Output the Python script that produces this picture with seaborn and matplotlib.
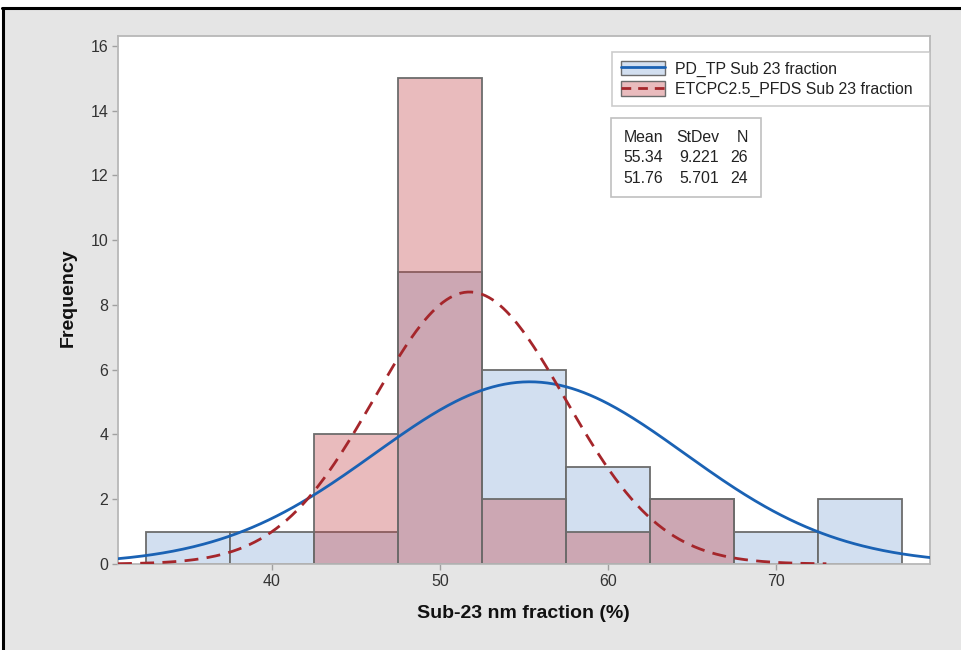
import numpy as np
import pandas as pd
import matplotlib
matplotlib.use("Agg")
import matplotlib.pyplot as plt
import seaborn as sns
from matplotlib.patches import Rectangle, Patch
from matplotlib.lines import Line2D
from matplotlib.legend_handler import HandlerTuple

# ---------------- data ----------------
bin_centers = [35, 40, 45, 50, 55, 60, 65, 70, 75]
bin_edges = [32.5, 37.5, 42.5, 47.5, 52.5, 57.5, 62.5, 67.5, 72.5, 77.5]
pd_tp_counts = [1, 1, 1, 9, 6, 3, 2, 1, 2]
etc_counts = [0, 0, 4, 15, 2, 1, 2, 0, 0]
series_names = ["PD_TP Sub 23 fraction", "ETCPC2.5_PFDS Sub 23 fraction"]
means = [55.34, 51.76]
stdevs = [9.221, 5.701]
ns = [26, 24]
x_ticks = [40, 50, 60, 70]
y_ticks = [0, 2, 4, 6, 8, 10, 12, 14, 16]
x_label = "Sub-23 nm fraction (%)"
y_label = "Frequency"

# ---------------- style ----------------
sns.set_style("white")
plt.rcParams["font.family"] = ["Liberation Sans", "DejaVu Sans"]

W, H = 962, 650
fig = plt.figure(figsize=(W / 100, H / 100), dpi=100, facecolor="white")

def fx(px):
    return px / W

def fy(py):
    return 1 - py / H

# gray panel with black top/left border
fig.add_artist(Rectangle((fx(3), 0), 1 - fx(3), fy(9), transform=fig.transFigure,
                         facecolor="#e5e5e5", edgecolor="none", zorder=-10))
fig.add_artist(Line2D([fx(3), fx(3)], [0, fy(8)], transform=fig.transFigure,
                      color="black", lw=2.2))
fig.add_artist(Line2D([fx(2), 1], [fy(8), fy(8)], transform=fig.transFigure,
                      color="black", lw=2.2))

ax_l, ax_r, ax_t, ax_b = 118, 930, 36, 564
ax = fig.add_axes([fx(ax_l), fy(ax_b), fx(ax_r - ax_l), (ax_b - ax_t) / H])
ax.set_facecolor("white")

blue_fill = "#d2dff0"
red_base = "#c24548"
edge_col = "#6c6c6c"
blue_line = "#1a62b4"
red_line = "#a5262b"

df_blue = pd.DataFrame({"x": bin_centers, "w": pd_tp_counts})
df_red = pd.DataFrame({"x": bin_centers, "w": etc_counts})

sns.histplot(data=df_blue, x="x", weights="w", bins=bin_edges, color=blue_fill,
             alpha=1.0, edgecolor=edge_col, linewidth=1.3, ax=ax, zorder=1)
n_before = len(ax.patches)
sns.histplot(data=df_red, x="x", weights="w", bins=bin_edges, color=red_base,
             alpha=0.36, edgecolor=edge_col, linewidth=1.3, ax=ax, zorder=2)
red_fc = matplotlib.colors.to_rgba(red_base, 0.36)
for p in ax.patches[n_before:]:
    p.set_alpha(None)
    p.set_facecolor(red_fc)
    if p.get_height() > 0:
        p.set_edgecolor(edge_col)
    else:
        p.set_edgecolor("none")

xmin, xmax = 30.83, 79.17
binw = 5.0

def normal_curve(m, s, n, lo, hi):
    xs = np.linspace(lo, hi, 400)
    ys = n * binw / (s * np.sqrt(2 * np.pi)) * np.exp(-0.5 * ((xs - m) / s) ** 2)
    return xs, ys

xb, yb = normal_curve(means[0], stdevs[0], ns[0], xmin, xmax)
xr, yr = normal_curve(means[1], stdevs[1], ns[1], xmin, 73.0)
sns.lineplot(x=xb, y=yb, ax=ax, color=blue_line, lw=2.0, zorder=4)
sns.lineplot(x=xr, y=yr, ax=ax, color=red_line, lw=2.0, zorder=5)
ax.lines[-1].set_dashes([5, 3])

ax.set_xlim(xmin, xmax)
ax.set_ylim(0, 16.3)
ax.set_xticks(x_ticks)
ax.set_yticks(y_ticks)
ax.tick_params(axis="both", direction="out", length=4, width=1, color="#a0a0a0",
               labelsize=11.5, labelcolor="#333333", pad=3,
               bottom=True, left=True)
for sp in ax.spines.values():
    sp.set_visible(True)
    sp.set_color("#b8b8b8")
    sp.set_linewidth(1.3)

ax.set_xlabel("")
ax.set_ylabel("")
fig.text(fx(523), fy(613), x_label, ha="center", va="center",
         fontsize=14, fontweight="bold", color="#111111")
fig.text(fx(68), fy(298), y_label, ha="center", va="center", rotation=90,
         fontsize=14, fontweight="bold", color="#111111")

# legend
h_blue = (Patch(facecolor=blue_fill, edgecolor=edge_col, lw=1.0),
          Line2D([], [], color=blue_line, lw=2.0))
h_red = (Patch(facecolor=red_fc, edgecolor=edge_col, lw=1.0),
         Line2D([], [], color=red_line, lw=2.0, dashes=[3.5, 2.5]))
leg = ax.legend([h_blue, h_red], series_names,
                handler_map={tuple: HandlerTuple(ndivide=1, pad=0)},
                loc="upper left", mode="expand",
                bbox_to_anchor=(fx(612), fy(106), fx(930 - 612), (106 - 52) / H),
                bbox_transform=fig.transFigure, borderaxespad=0,
                fontsize=11.4, handlelength=2.8, handleheight=1.05,
                handletextpad=0.6, labelspacing=0.3, borderpad=0.55,
                fancybox=False, frameon=True)
leg.get_frame().set_edgecolor("#c0c0c0")
leg.get_frame().set_linewidth(1.2)
for t in leg.get_texts():
    t.set_color("#222222")

# stats table
fig.add_artist(Rectangle((fx(611), fy(197)), fx(761 - 611), (197 - 118) / H,
                         transform=fig.transFigure, facecolor="white",
                         edgecolor="#c0c0c0", lw=1.2, zorder=6))
rows = [["Mean", "StDev", "N"],
        [f"{means[0]:.2f}", f"{stdevs[0]:.3f}", f"{ns[0]}"],
        [f"{means[1]:.2f}", f"{stdevs[1]:.3f}", f"{ns[1]}"]]
col_right = [663, 719, 748]
row_y = [137, 158, 179]
for r, yv in zip(rows, row_y):
    for c, xv in zip(r, col_right):
        fig.text(fx(xv), fy(yv), c, ha="right", va="center", fontsize=11.4,
                 color="#222222", zorder=7)

fig.savefig("out.png", dpi=100, facecolor="white")
